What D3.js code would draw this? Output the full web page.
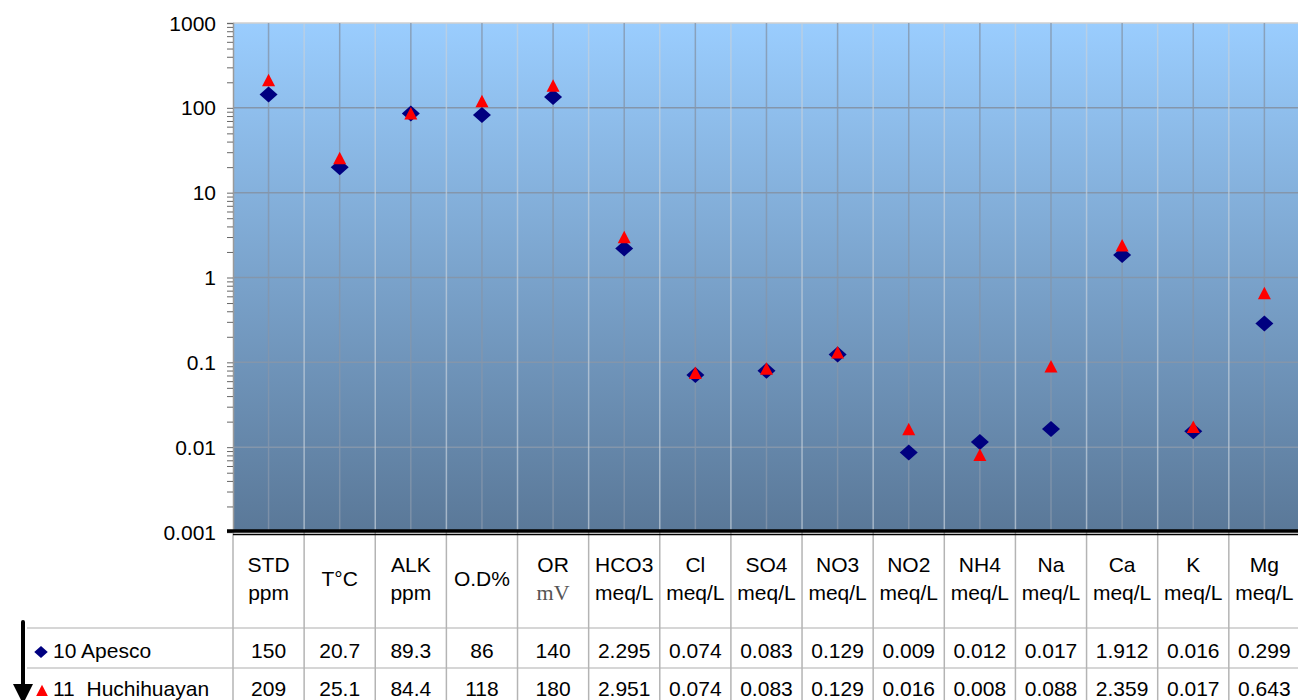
<!DOCTYPE html>
<html>
<head>
<meta charset="utf-8">
<script src="https://cdn.jsdelivr.net/npm/d3@7"></script>
<style>
  body { margin: 0; background: #fff; }
  svg { display: block; font-family: "Liberation Sans", Arial, sans-serif; }
</style>
</head>
<body>
<svg width="1298" height="700"></svg>
<script>
// Categories (two-line headers of the data table)
const names = ["STD", "T°C", "ALK", "O.D%", "OR", "HCO3", "Cl", "SO4", "NO3", "NO2", "NH4", "Na", "Ca", "K", "Mg"];
const units = ["ppm", "", "ppm", "", "mV", "meq/L", "meq/L", "meq/L", "meq/L", "meq/L", "meq/L", "meq/L", "meq/L", "meq/L", "meq/L"];

// Series
const apesco = [150, 20.7, 89.3, 86, 140, 2.295, 0.074, 0.083, 0.129, 0.009, 0.012, 0.017, 1.912, 0.016, 0.299];
const huchihuayan = [209, 25.1, 84.4, 118, 180, 2.951, 0.074, 0.083, 0.129, 0.016, 0.008, 0.088, 2.359, 0.017, 0.643];
const seriesNames = ["10 Apesco", "11  Huchihuayan"];

// Y ticks
const yTicks = [0.001, 0.01, 0.1, 1, 10, 100, 1000];

const svg = d3.select("svg");
const plotLeft = 233, plotTop = 23, plotBottom = 532;
const step = 71.13;
const fs = 21;

const x = d3.scaleBand().domain(names).range([plotLeft, plotLeft + step * names.length]).padding(0);
const y = d3.scaleLog().domain([0.001, 1000]).range([plotBottom, plotTop]);
const cx = d => x(d) + x.bandwidth() / 2;

// Background gradient
const defs = svg.append("defs");
const grad = defs.append("linearGradient").attr("id", "bg")
    .attr("x1", 0).attr("y1", 0).attr("x2", 0).attr("y2", 1);
grad.append("stop").attr("offset", "0%").attr("stop-color", "#9acdfe");
grad.append("stop").attr("offset", "100%").attr("stop-color", "#5a7898");

svg.append("rect")
    .attr("x", plotLeft).attr("y", plotTop)
    .attr("width", x.range()[1] - plotLeft).attr("height", plotBottom - plotTop)
    .attr("fill", "url(#bg)");

// top border
svg.append("line")
    .attr("x1", plotLeft).attr("x2", 1298).attr("y1", plotTop).attr("y2", plotTop)
    .attr("stroke", "#cfcfcf").attr("stroke-width", 1.5);

// Horizontal gridlines at decades
svg.append("g").selectAll("line").data(yTicks.slice(1, -1)).join("line")
    .attr("x1", plotLeft).attr("x2", 1298)
    .attr("y1", d => y(d)).attr("y2", d => y(d))
    .attr("stroke", "#8496ab").attr("stroke-width", 1.5);

// Vertical gridlines: boundaries (light) and centers (darker)
svg.append("g").selectAll("line").data(names.slice(1)).join("line")
    .attr("x1", d => x(d)).attr("x2", d => x(d))
    .attr("y1", plotTop).attr("y2", plotBottom)
    .attr("stroke", "#c4d0dc").attr("stroke-opacity", 0.7).attr("stroke-width", 1.5);
svg.append("g").selectAll("line").data(names).join("line")
    .attr("x1", d => cx(d)).attr("x2", d => cx(d))
    .attr("y1", plotTop).attr("y2", plotBottom)
    .attr("stroke", "#8496ab").attr("stroke-opacity", 0.8).attr("stroke-width", 1.5);

// Y axis (minor ticks at 1..9 per decade)
const yAxis = d3.axisLeft(y)
    .tickValues(y.ticks())
    .tickSize(6)
    .tickFormat("");
const ya = svg.append("g").attr("transform", `translate(${plotLeft},0)`).call(yAxis);
ya.select(".domain").attr("stroke", "#9a9a9a").attr("stroke-width", 1.5);
ya.selectAll(".tick line").attr("stroke", "#666");

svg.append("g").selectAll("text").data(yTicks).join("text")
    .attr("x", 216).attr("y", d => y(d))
    .attr("dy", "0.36em")
    .attr("text-anchor", "end")
    .attr("font-size", fs)
    .text(d => String(d));

// Markers
const diamond = "M0,-8L9,0L0,8L-9,0Z";
const triangle = "M0,-7L6.5,5.5L-6.5,5.5Z";

svg.append("g").selectAll("path").data(apesco).join("path")
    .attr("transform", (d, i) => `translate(${cx(names[i])},${y(d) + 1.5})`)
    .attr("d", diamond)
    .attr("fill", "#000080");

svg.append("g").selectAll("path").data(huchihuayan).join("path")
    .attr("transform", (d, i) => `translate(${cx(names[i])},${y(d)})`)
    .attr("d", triangle)
    .attr("fill", "#ff0000");

// Data table
const row1 = 628, row2 = 668;
svg.append("g").selectAll("line").data([row1, row2]).join("line")
    .attr("x1", 27).attr("x2", 1298)
    .attr("y1", d => d).attr("y2", d => d)
    .attr("stroke", "#c8c8c8").attr("stroke-width", 1.5);

svg.append("g").selectAll("line").data(names).join("line")
    .attr("x1", d => x(d)).attr("x2", d => x(d))
    .attr("y1", plotBottom).attr("y2", 700)
    .attr("stroke", "#b4b4b4").attr("stroke-width", 1.5);

// Thick bottom border of the plot
svg.append("line")
    .attr("x1", plotLeft - 6).attr("x2", 1298).attr("y1", 531).attr("y2", 531)
    .attr("stroke", "#000").attr("stroke-width", 3.5);
svg.append("line")
    .attr("x1", plotLeft).attr("x2", 1298).attr("y1", 534.5).attr("y2", 534.5)
    .attr("stroke", "#000").attr("stroke-width", 1.5);

// Header text
const head = svg.append("g").attr("font-size", fs).attr("text-anchor", "middle");
names.forEach((n, i) => {
    const u = units[i];
    if (u) {
        head.append("text").attr("x", cx(n)).attr("y", 572).text(n);
        const t = head.append("text").attr("x", cx(n)).attr("y", 600).text(u);
        if (u === "mV") t.attr("font-family", "Liberation Serif, serif").attr("fill", "#555").attr("font-size", 22);
    } else {
        head.append("text").attr("x", cx(n)).attr("y", 586).text(n);
    }
});

// Values
[apesco, huchihuayan].forEach((s, k) => {
    svg.append("g").attr("font-size", fs).attr("text-anchor", "middle")
        .selectAll("text").data(s).join("text")
        .attr("x", (d, i) => cx(names[i]))
        .attr("y", k === 0 ? 658 : 696)
        .text(d => String(d));
});

// Legend labels
svg.append("path").attr("d", diamond).attr("fill", "#000080")
    .attr("transform", "translate(41,652) scale(0.75)");
svg.append("path").attr("d", triangle).attr("fill", "#ff0000")
    .attr("transform", "translate(42,691) scale(0.9)");
svg.append("text").attr("x", 53).attr("y", 658).attr("font-size", fs).text(seriesNames[0]);
svg.append("text").attr("x", 53).attr("y", 696).attr("font-size", fs)
    .style("white-space", "pre").text(seriesNames[1]);

// Arrow
svg.append("line").attr("x1", 23).attr("x2", 23).attr("y1", 622).attr("y2", 688)
    .attr("stroke", "#000").attr("stroke-width", 4).attr("stroke-linecap", "round");
svg.append("path").attr("d", "M13,684L33,684L23,704Z").attr("fill", "#000");
</script>
</body>
</html>
